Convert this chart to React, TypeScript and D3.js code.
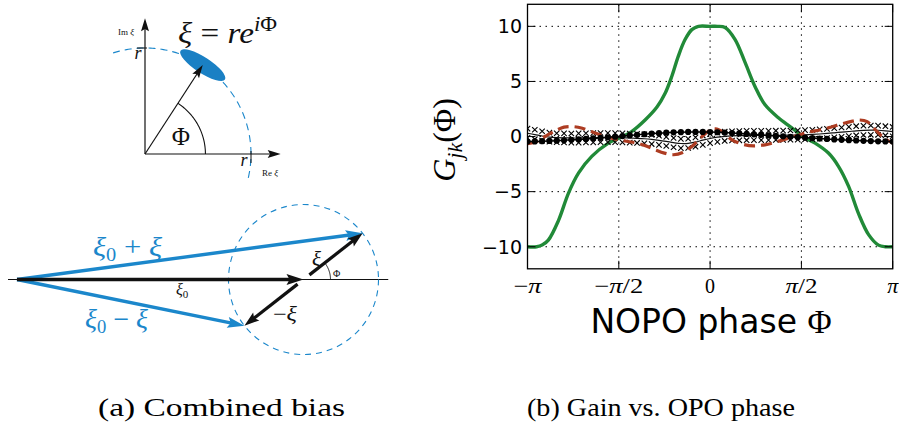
import React from "react";
import * as d3 from "d3";

const W = 899;
const H = 422;

// ---------- right panel: gain vs phase ----------
const xTickPhaseOverPi = [-1, -0.5, 0, 0.5, 1];
const xTickLabels = ["−π", "−π/2", "0", "π/2", "π"];
const yTicks = [-10, -5, 0, 5, 10];
const yTickLabels = ["−10", "−5", "0", "5", "10"];

const greenPhase = [-1.0, -0.95, -0.92, -0.886, -0.83, -0.776, -0.72, -0.648, -0.557, -0.5, -0.43, -0.356, -0.29, -0.247, -0.21, -0.174, -0.137, -0.1, -0.064, 0, 0.04, 0.082, 0.137, 0.192, 0.247, 0.3, 0.374, 0.447, 0.508, 0.575, 0.648, 0.703, 0.758, 0.813, 0.868, 0.922, 0.96, 1.0];
const greenGain = [-10, -10, -9.85, -9.4, -7.6, -5.15, -3.3, -1.8, -0.6, -0.15, 0.45, 1.5, 2.7, 3.9, 5.45, 7.3, 8.8, 9.7, 10, 10, 10, 9.9, 8.8, 6.7, 4.5, 2.9, 1.7, 0.8, 0, -0.6, -1.5, -2.7, -4.5, -7, -8.9, -9.85, -10, -10];

const redPhase = [-1.0, -0.95, -0.9, -0.85, -0.8, -0.75, -0.7, -0.65, -0.6, -0.55, -0.5, -0.45, -0.4, -0.35, -0.3, -0.25, -0.2, -0.15, -0.1, -0.05, 0.0, 0.03, 0.07, 0.12, 0.18, 0.24, 0.3, 0.36, 0.42, 0.48, 0.54, 0.6, 0.66, 0.72, 0.78, 0.82, 0.86, 0.9, 0.95, 1.0];
const redGain = [-0.65, -0.45, 0.05, 0.5, 0.85, 0.9, 0.75, 0.45, 0.15, -0.1, -0.3, -0.45, -0.6, -0.85, -1.2, -1.5, -1.65, -1.45, -0.9, -0.1, 0.6, 0.7, 0.4, -0.3, -0.7, -0.85, -0.75, -0.5, -0.2, 0.1, 0.4, 0.6, 0.85, 1.15, 1.4, 1.5, 1.35, 0.7, -0.1, -0.6];

// sampled phases (in units of π) for the marker series: 51 samples
const markerPhase = d3.range(51).map((i) => -1 + i * 0.04);

const dotGain = [-0.45, -0.44, -0.42, -0.4, -0.37, -0.34, -0.3, -0.26, -0.22, -0.17, -0.12, -0.07, -0.02, 0.04, 0.1, 0.16, 0.22, 0.27, 0.31, 0.35, 0.38, 0.4, 0.42, 0.42, 0.42, 0.41, 0.39, 0.36, 0.32, 0.28, 0.24, 0.2, 0.15, 0.1, 0.06, 0.02, -0.02, -0.06, -0.1, -0.14, -0.18, -0.22, -0.26, -0.3, -0.33, -0.36, -0.39, -0.41, -0.43, -0.44, -0.45];

const thinGain = [0.3, 0.18, 0.05, -0.05, -0.1, -0.12, -0.13, -0.13, -0.12, -0.11, -0.1, -0.1, -0.1, -0.11, -0.13, -0.16, -0.2, -0.26, -0.34, -0.44, -0.55, -0.63, -0.62, -0.5, -0.33, -0.18, -0.06, 0.02, 0.06, 0.08, 0.09, 0.1, 0.1, 0.1, 0.11, 0.12, 0.13, 0.14, 0.16, 0.19, 0.23, 0.28, 0.34, 0.4, 0.46, 0.52, 0.56, 0.58, 0.57, 0.52, 0.45];

const crossUpperGain = [0.72, 0.62, 0.48, 0.36, 0.3, 0.29, 0.28, 0.29, 0.3, 0.31, 0.32, 0.32, 0.31, 0.3, 0.28, 0.25, 0.21, 0.15, 0.07, -0.03, -0.13, -0.21, -0.2, -0.08, 0.09, 0.24, 0.36, 0.44, 0.48, 0.5, 0.51, 0.52, 0.52, 0.52, 0.53, 0.54, 0.55, 0.56, 0.58, 0.61, 0.65, 0.7, 0.76, 0.82, 0.88, 0.94, 0.98, 1.0, 0.99, 0.94, 0.87];
const crossLowerGain = [-0.12, -0.24, -0.37, -0.47, -0.52, -0.54, -0.55, -0.55, -0.54, -0.53, -0.52, -0.52, -0.52, -0.53, -0.55, -0.58, -0.62, -0.68, -0.76, -0.86, -0.97, -1.05, -1.04, -0.92, -0.75, -0.6, -0.48, -0.4, -0.36, -0.34, -0.33, -0.32, -0.32, -0.32, -0.31, -0.3, -0.29, -0.28, -0.26, -0.23, -0.19, -0.14, -0.08, -0.02, 0.04, 0.1, 0.14, 0.16, 0.15, 0.1, 0.03];

// ---------- left panel: diagrams ----------
const topPhiDeg = 57; // angle of ξ in the top diagram
const topArcDeg = [-13, 108]; // dashed |ξ| = r arc
const topAxisLen = 1.28; // axis arrows, units of r
const topAngleArcR = 0.57;
const ellipseSemiAxes = [0.25, 0.075];

const xi0Len = 3.82; // |ξ0| in units of |ξ|
const bottomPhiDeg = 38;
const baseLineExtent = [-0.12, 4.95];
const smallArcR = 0.36;

const BLUE = "#1b87cb";
const GREEN = "#218a38";
const RED = "#ad3c22";
const SERIF = "'Liberation Serif', 'DejaVu Serif', serif";
const SANS = "'DejaVu Sans', sans-serif";

function arrow(x1: number, y1: number, x2: number, y2: number, len: number, w: number) {
  const dx = x2 - x1, dy = y2 - y1;
  const L = Math.hypot(dx, dy);
  const ux = dx / L, uy = dy / L;
  const bx = x2 - ux * len, by = y2 - uy * len;
  const px = -uy, py = ux;
  const ix = x2 - ux * len * 0.82, iy = y2 - uy * len * 0.82;
  return {
    shaft: [x1, y1, ix + ux, iy + uy],
    head: `${x2},${y2} ${bx + (px * w) / 2},${by + (py * w) / 2} ${ix},${iy} ${bx - (px * w) / 2},${by - (py * w) / 2}`,
  };
}

function Arrow({ x1, y1, x2, y2, color, width, len, w }: any) {
  const a = arrow(x1, y1, x2, y2, len, w);
  return (
    <g>
      <line x1={a.shaft[0]} y1={a.shaft[1]} x2={a.shaft[2]} y2={a.shaft[3]} stroke={color} strokeWidth={width} />
      <polygon points={a.head} fill={color} />
    </g>
  );
}

function LeftPanel() {
  // top diagram scales (unit = r)
  const sx = d3.scaleLinear().domain([0, 1]).range([145, 251]);
  const sy = d3.scaleLinear().domain([0, 1]).range([154, 48]);
  const rad = (d: number) => (d * Math.PI) / 180;
  const phi = rad(topPhiDeg);
  const ex = Math.cos(phi), ey = Math.sin(phi);

  const arcPts = d3.range(topArcDeg[0], topArcDeg[1] + 0.5, 1).map((d) => [sx(Math.cos(rad(d))), sy(Math.sin(rad(d)))]);
  const angPts = d3.range(0, topPhiDeg + 0.5, 1).map((d) => [sx(topAngleArcR * Math.cos(rad(d))), sy(topAngleArcR * Math.sin(rad(d)))]);
  const line = d3.line();
  const pxPerUnit = sx(1) - sx(0);
  const tangentDeg = -(topPhiDeg - 90);

  // bottom diagram scales (unit = |ξ|)
  const bx = d3.scaleLinear().domain([0, 1]).range([17, 92]);
  const by = d3.scaleLinear().domain([0, 1]).range([279.5, 204.5]);
  const bphi = rad(bottomPhiDeg);
  const cx = xi0Len, cy = 0;
  const ax = cx + Math.cos(bphi), ay = Math.sin(bphi);
  const mx = cx - Math.cos(bphi), my = -Math.sin(bphi);
  const gap = 0.1;
  const circR = bx(1) - bx(0);
  const smallArc = d3.range(0, bottomPhiDeg + 0.5, 1).map((d) => [bx(cx + smallArcR * Math.cos(rad(d))), by(smallArcR * Math.sin(rad(d)))]);

  return (
    <g>
      {/* top diagram */}
      <path d={line(arcPts as any) || ""} fill="none" stroke={BLUE} strokeWidth={1.1} strokeDasharray="7 5" />
      <Arrow x1={sx(0)} y1={sy(0)} x2={sx(topAxisLen)} y2={sy(0)} color="#111" width={1.2} len={13} w={8} />
      <Arrow x1={sx(0)} y1={sy(0)} x2={sx(0)} y2={sy(topAxisLen)} color="#111" width={1.2} len={13} w={8} />
      <line x1={sx(0) - 8} y1={sy(1)} x2={sx(0) + 2} y2={sy(1)} stroke="#111" strokeWidth={1} />
      <line x1={sx(1)} y1={sy(0) - 3} x2={sx(1)} y2={sy(0) + 9} stroke="#111" strokeWidth={1} />
      <ellipse
        cx={sx(ex)}
        cy={sy(ey)}
        rx={ellipseSemiAxes[0] * pxPerUnit}
        ry={ellipseSemiAxes[1] * pxPerUnit}
        fill="#1a80c4"
        transform={`rotate(${tangentDeg} ${sx(ex)} ${sy(ey)})`}
      />
      <Arrow x1={sx(0)} y1={sy(0)} x2={sx(ex)} y2={sy(ey)} color="#111" width={1.2} len={13} w={8} />
      <path d={line(angPts as any) || ""} fill="none" stroke="#111" strokeWidth={1.1} />
      <text x={181} y={145} fontFamily={SERIF} fontSize={25} textAnchor="middle" fill="#111">Φ</text>
      <text x={138} y={59} fontFamily={SERIF} fontSize={18} fontStyle="italic" textAnchor="middle" fill="#111">r</text>
      <text x={244} y={166} fontFamily={SERIF} fontSize={18} fontStyle="italic" textAnchor="middle" fill="#111">r</text>
      <text x={126} y={35} fontFamily={SERIF} fontSize={9} textAnchor="middle" fill="#111">Im <tspan fontStyle="italic">ξ</tspan></text>
      <text x={270} y={176} fontFamily={SERIF} fontSize={9} textAnchor="middle" fill="#111">Re <tspan fontStyle="italic">ξ</tspan></text>
      <text x={178} y={43} fontFamily={SERIF} fontSize={29} fill="#111" textLength={99} lengthAdjust="spacingAndGlyphs">
        <tspan fontStyle="italic">ξ</tspan>
        <tspan> = </tspan>
        <tspan fontStyle="italic">re</tspan>
        <tspan dy={-12} fontSize={20}><tspan fontStyle="italic">i</tspan>Φ</tspan>
      </text>

      {/* bottom diagram */}
      <line x1={bx(baseLineExtent[0])} y1={by(0)} x2={bx(baseLineExtent[1])} y2={by(0)} stroke="#111" strokeWidth={1} />
      <circle cx={bx(cx)} cy={by(cy)} r={circR} fill="none" stroke={BLUE} strokeWidth={1.1} strokeDasharray="6 5" />
      <Arrow x1={bx(0)} y1={by(0)} x2={bx(ax)} y2={by(ay)} color={BLUE} width={3.4} len={17} w={11} />
      <Arrow x1={bx(0)} y1={by(0)} x2={bx(mx)} y2={by(my)} color={BLUE} width={3.4} len={17} w={11} />
      <Arrow x1={bx(0)} y1={by(0)} x2={bx(cx)} y2={by(cy)} color="#111" width={3.6} len={17} w={11} />
      <Arrow x1={bx(cx + gap * Math.cos(bphi))} y1={by(gap * Math.sin(bphi))} x2={bx(ax)} y2={by(ay)} color="#111" width={3.2} len={15} w={10} />
      <Arrow x1={bx(cx - gap * Math.cos(bphi))} y1={by(-gap * Math.sin(bphi))} x2={bx(mx)} y2={by(my)} color="#111" width={3.2} len={15} w={10} />
      <path d={line(smallArc as any) || ""} fill="none" stroke="#111" strokeWidth={1} />
      <text x={93} y={256} fontFamily={SERIF} fontSize={27} fill={BLUE} textLength={69} lengthAdjust="spacingAndGlyphs">
        <tspan fontStyle="italic">ξ</tspan><tspan dy={5} fontSize={18}>0</tspan><tspan dy={-5}> + </tspan><tspan fontStyle="italic">ξ</tspan>
      </text>
      <text x={85} y={328} fontFamily={SERIF} fontSize={27} fill={BLUE} textLength={63} lengthAdjust="spacingAndGlyphs">
        <tspan fontStyle="italic">ξ</tspan><tspan dy={5} fontSize={18}>0</tspan><tspan dy={-5}> − </tspan><tspan fontStyle="italic">ξ</tspan>
      </text>
      <text x={176} y={295} fontFamily={SERIF} fontSize={16} fill="#111">
        <tspan fontStyle="italic">ξ</tspan><tspan dy={3} fontSize={11}>0</tspan>
      </text>
      <text x={312} y={266} fontFamily={SERIF} fontSize={21} fontStyle="italic" fill="#111">ξ</text>
      <text x={333} y={277} fontFamily={SERIF} fontSize={10} fill="#111">Φ</text>
      <text x={273} y={321} fontFamily={SERIF} fontSize={21} fill="#111" textLength={24} lengthAdjust="spacingAndGlyphs">−<tspan fontStyle="italic">ξ</tspan></text>
    </g>
  );
}

function RightPanel() {
  const left = 527.5, right = 892.7, top = 4.3, bottom = 268.8;
  const x = d3.scaleLinear().domain([-Math.PI, Math.PI]).range([left, right]);
  const y = d3.scaleLinear().domain([-12, 12]).range([bottom, top]);
  const ln = d3.line<[number, number]>().x((d) => x(d[0] * Math.PI)).y((d) => y(d[1])).curve(d3.curveCatmullRom.alpha(0.5));
  const lnLin = d3.line<[number, number]>().x((d) => x(d[0] * Math.PI)).y((d) => y(d[1]));
  const green = greenPhase.map((p, i) => [p, greenGain[i]] as [number, number]);
  const red = redPhase.map((p, i) => [p, redGain[i]] as [number, number]);
  const dots = markerPhase.map((p, i) => [p, dotGain[i]] as [number, number]);
  const thin = markerPhase.map((p, i) => [p, thinGain[i]] as [number, number]);
  const cu = markerPhase.map((p, i) => [p, crossUpperGain[i]] as [number, number]);
  const cl = markerPhase.map((p, i) => [p, crossLowerGain[i]] as [number, number]);
  const s = 2.7;
  const cross = (d: [number, number], k: string) => {
    const cx = x(d[0] * Math.PI), cy = y(d[1]);
    return <path key={k} d={`M${cx - s},${cy - s}L${cx + s},${cy + s}M${cx - s},${cy + s}L${cx + s},${cy - s}`} stroke="#000" strokeWidth={1.1} fill="none" />;
  };
  const tickLabelLen: Record<string, number> = { "−π": 28, "−π/2": 49, "0": 10, "π/2": 32, "π": 11 };
  return (
    <g>
      <defs>
        <clipPath id="plotclip">
          <rect x={left} y={top} width={right - left} height={bottom - top} />
        </clipPath>
      </defs>
      {/* grid */}
      {xTickPhaseOverPi.slice(1, -1).map((t) => (
        <line key={"gx" + t} x1={x(t * Math.PI)} x2={x(t * Math.PI)} y1={top} y2={bottom} stroke="#000" strokeWidth={1} strokeDasharray="1.5 4.5" />
      ))}
      {yTicks.map((v) => (
        <line key={"gy" + v} x1={left} x2={right} y1={y(v)} y2={y(v)} stroke="#000" strokeWidth={1} strokeDasharray="1.5 4.5" />
      ))}
      <g clipPath="url(#plotclip)">
        <path d={ln(green) || ""} fill="none" stroke={GREEN} strokeWidth={3.4} strokeLinejoin="round" />
        {cu.map((d, i) => cross(d, "u" + i))}
        {cl.map((d, i) => cross(d, "l" + i))}
        <path d={ln(thin) || ""} fill="none" stroke="#111" strokeWidth={1.2} />
        <path d={ln(red) || ""} fill="none" stroke={RED} strokeWidth={3.2} strokeDasharray="11 6" />
        <path d={lnLin(dots) || ""} fill="none" stroke="#000" strokeWidth={1.5} />
        {dots.map((d, i) => (
          <circle key={"d" + i} cx={x(d[0] * Math.PI)} cy={y(d[1])} r={3.1} fill="#000" />
        ))}
      </g>
      {/* ticks */}
      {xTickPhaseOverPi.map((t) => (
        <g key={"tx" + t}>
          <line x1={x(t * Math.PI)} x2={x(t * Math.PI)} y1={bottom} y2={bottom - 8} stroke="#000" strokeWidth={1} />
          <line x1={x(t * Math.PI)} x2={x(t * Math.PI)} y1={top} y2={top + 8} stroke="#000" strokeWidth={1} />
        </g>
      ))}
      {yTicks.map((v) => (
        <g key={"ty" + v}>
          <line x1={left} x2={left + 8} y1={y(v)} y2={y(v)} stroke="#000" strokeWidth={1} />
          <line x1={right} x2={right - 8} y1={y(v)} y2={y(v)} stroke="#000" strokeWidth={1} />
        </g>
      ))}
      <rect x={left} y={top} width={right - left} height={bottom - top} fill="none" stroke="#000" strokeWidth={1.3} />
      {/* tick labels */}
      {xTickPhaseOverPi.map((t, i) => {
        const lab = xTickLabels[i];
        return (
          <text key={"lx" + t} x={x(t * Math.PI)} y={293} textAnchor="middle" fontFamily={SERIF} fontSize={21} fill="#000" textLength={tickLabelLen[lab]} lengthAdjust="spacingAndGlyphs">
            {lab.split("").map((c, j) => (
              <tspan key={j} fontStyle={c === "π" ? "italic" : "normal"}>{c}</tspan>
            ))}
          </text>
        );
      })}
      {yTicks.map((v, i) => (
        <text key={"ly" + v} x={522} y={y(v)} dy="0.36em" textAnchor="end" fontFamily={SANS} fontSize={19} fill="#000">
          {yTickLabels[i]}
        </text>
      ))}
      {/* axis labels */}
      <text x={711} y={333} textAnchor="middle" fontFamily={SANS} fontSize={33} fill="#000">
        NOPO phase <tspan fontFamily={SERIF}>Φ</tspan>
      </text>
      <text transform="translate(455,140) rotate(-90)" textAnchor="middle" fontFamily={SERIF} fontSize={32} fill="#000">
        <tspan fontStyle="italic">G</tspan>
        <tspan dy={7} fontSize={22} fontStyle="italic">jk</tspan>
        <tspan dy={-7}>(Φ)</tspan>
      </text>
    </g>
  );
}

export default function App() {
  return (
    <svg width={W} height={H} viewBox={`0 0 ${W} ${H}`} style={{ display: "block", position: "absolute", left: 0, top: 0, background: "#fff" }}>
      <rect x={0} y={0} width={W} height={H} fill="#fff" />
      <LeftPanel />
      <RightPanel />
      <text x={98} y={416} fontFamily={SERIF} fontSize={25} fill="#000" textLength={247} lengthAdjust="spacingAndGlyphs">(a) Combined bias</text>
      <text x={527} y={416} fontFamily={SERIF} fontSize={25} fill="#000" textLength={268} lengthAdjust="spacingAndGlyphs">(b) Gain vs. OPO phase</text>
    </svg>
  );
}
